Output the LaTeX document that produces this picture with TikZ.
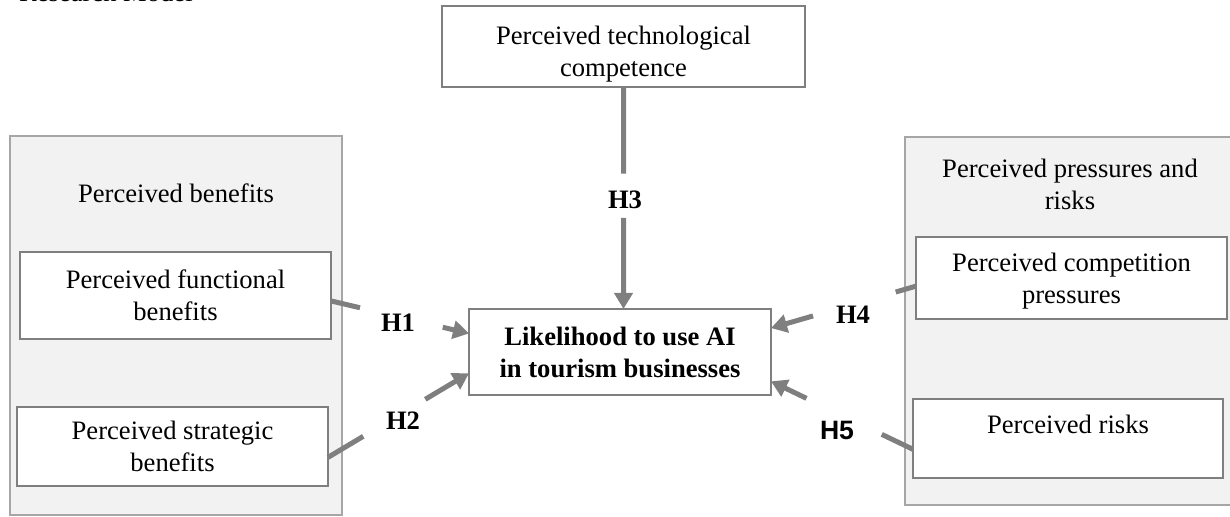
\documentclass[tikz,border=0pt]{standalone}
\usepackage{fontspec}
\setmainfont{Liberation Serif}
\newfontfamily\hsans{Liberation Sans}
\usetikzlibrary{arrows.meta,calc}
\definecolor{boxgray}{HTML}{7F7F7F}
\definecolor{groupgray}{HTML}{A6A6A6}
\definecolor{groupfill}{HTML}{F2F2F2}
\tikzset{
  box/.style={draw=boxgray, line width=1pt, fill=white, align=center, inner sep=0pt, outer sep=0pt},
  groupbox/.style={draw=groupgray, line width=1pt, fill=groupfill, inner sep=0pt, outer sep=0pt},
  link/.style={draw=boxgray, line width=2.5pt},
  hyp/.style={font=\fontsize{13.3}{16}\selectfont\bfseries},
  >={Triangle[length=8pt,width=9pt]}
}
\newcommand{\drawLink}[7]{
  \draw[link] (#1) -- ($(#1)!#5!(#2)$);
  \draw[link, ->] ($(#1)!#6!(#2)$) -- (#2);
  \node[hyp] (#3) at (#7) {#4};
}

\begin{document}
\begin{tikzpicture}[x=0.5pt, y=-0.5pt, font=\fontsize{13.3}{16}\selectfont]
  \useasboundingbox (0,0) rectangle (1230,517);
  \node[anchor=base west] (title) at (12,2) {Research Model};

  % Groups
  \node[groupbox, minimum width=166pt, minimum height=189.5pt] (benefits) at (176,325.5) {};
  \node (benefitsTitle) at (176,193) {Perceived benefits};
  \node[groupbox, minimum width=167.5pt, minimum height=184pt] (pressures) at (1072.5,321) {};
  \node[align=center] (pressuresTitle) at (1070,184) {Perceived pressures and\\risks};

  % Nodes
  \node[box, minimum width=155.5pt, minimum height=43.5pt] (func) at (175.5,295.5) {Perceived functional\\benefits};
  \node[box, minimum width=155.5pt, minimum height=39.5pt] (strat) at (172.5,446.5) {Perceived strategic\\benefits};
  \node[box, minimum width=181.5pt, minimum height=40.5pt,
    label={[align=center, yshift=-4pt]center:Perceived technological\\competence}] (tech) at (623.5,46.5) {};
  \node[box, minimum width=151pt, minimum height=43pt, font=\fontsize{13.3}{16}\selectfont\bfseries] (likely) at (620,352) {Likelihood to use AI\\in tourism businesses};
  \node[box, minimum width=155.5pt, minimum height=41pt,
    label={[align=center, yshift=-1.5pt]center:Perceived competition\\pressures}] (comp) at (1071.5,278) {};
  \node[box, minimum width=155pt, minimum height=39.5pt] (risks) at (1068,438.5) {Perceived risks\\[-2pt]~};

  % Hypotheses
  \drawLink{func.-2}{likely.173}{H1}{H1}{0.21}{0.81}{398,323}
  \drawLink{strat.-4}{likely.188}{H2}{H2}{0.25}{0.69}{403,421}
  \drawLink{tech.south}{tech.south |- likely.north}{H3}{H3}{0.39}{0.59}{625,200}
  \drawLink{comp.183}{likely.9}{H4}{H4}{0.14}{0.71}{853,315}
  \drawLink{risks.184}{likely.-11}{H5}{\hsans H5}{0.22}{0.75}{837,430}
\end{tikzpicture}
\end{document}
